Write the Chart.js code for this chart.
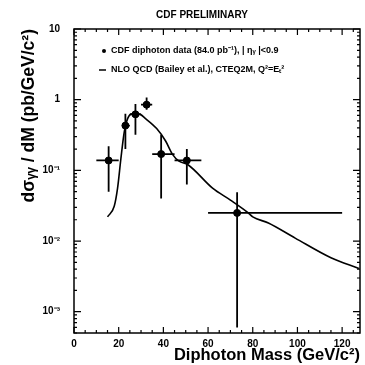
<!DOCTYPE html>
<html>
<head>
<meta charset="utf-8">
<script src="https://cdn.jsdelivr.net/npm/chart.js@4.4.1/dist/chart.umd.min.js"></script>
<style>
  html, body { margin: 0; padding: 0; background: #fff; }
  #wrap { width: 365px; height: 365px; }
</style>
</head>
<body>
<div id="wrap"><canvas id="diphotonChart" width="365" height="365"></canvas></div>
<script>
// Diphoton mass spectrum, CDF preliminary (log y axis)

// Data points
const massBins = [15.5, 23, 27.5, 32.5, 39, 50.5, 73];
const crossSection = [0.138, 0.43, 0.62, 0.85, 0.17, 0.138, 0.025];
const massLow = [10, 21.5, 25, 30, 35, 45, 60];
const massHigh = [20, 25, 30, 35, 45, 57, 120];
const errLow = [0.05, 0.2, 0.32, 0.72, 0.04, 0.063, 0.0006];
const errHigh = [0.22, 0.63, 0.87, 1.07, 0.32, 0.2, 0.049];

// NLO QCD curve
const curveMass = [15, 18, 19.5, 21, 22.5, 24, 26, 29, 32, 37, 41, 44, 47, 51, 62, 70, 78, 80, 87, 99, 115, 127.5];
const curveValue = [0.022, 0.031, 0.056, 0.148, 0.35, 0.54, 0.63, 0.63, 0.54, 0.39, 0.26, 0.17, 0.135, 0.12, 0.056, 0.038, 0.025, 0.022, 0.018, 0.011, 0.0058, 0.0041];

// Axis ticks
const xTickValues = [0, 20, 40, 60, 80, 100, 120];
const yTickValues = [0.001, 0.01, 0.1, 1, 10];
const yTickLabels = ['10\u207B\u00B3', '10\u207B\u00B2', '10\u207B\u00B9', '1', '10'];

const ink = '#000';
const boldFont = "'Liberation Sans', Arial, sans-serif";

// Error bars, drawn before the points so markers sit on top
const errorBars = {
    id: 'errorBars',
    afterDatasetsDraw(chart) {
        const { ctx, scales: { x, y } } = chart;
        ctx.save();
        ctx.strokeStyle = ink;
        ctx.lineWidth = 1.8;
        massBins.forEach((m, i) => {
            const px = x.getPixelForValue(m);
            const py = y.getPixelForValue(crossSection[i]);
            ctx.beginPath();
            ctx.moveTo(x.getPixelForValue(massLow[i]), py);
            ctx.lineTo(x.getPixelForValue(massHigh[i]), py);
            ctx.moveTo(px, y.getPixelForValue(errHigh[i]));
            ctx.lineTo(px, y.getPixelForValue(errLow[i]));
            ctx.stroke();
        });
        ctx.restore();
    }
};

// Frame, inward ticks on all four sides, title and legend text
const frameAndText = {
    id: 'frameAndText',
    afterDraw(chart) {
        const { ctx, chartArea: a, scales: { x, y } } = chart;
        ctx.save();
        ctx.strokeStyle = ink;
        ctx.lineWidth = 1.5;
        ctx.strokeRect(a.left, a.top, a.right - a.left, a.bottom - a.top);

        ctx.lineWidth = 1.2;
        ctx.beginPath();
        for (let v = 0; v <= x.max; v += 5) {
            const px = x.getPixelForValue(v);
            const len = v % 20 === 0 ? 6 : 3;
            ctx.moveTo(px, a.bottom); ctx.lineTo(px, a.bottom - len);
            ctx.moveTo(px, a.top); ctx.lineTo(px, a.top + len);
        }
        for (let e = -4; e <= 1; e++) {
            for (let k = 1; k <= 9; k++) {
                const v = k * Math.pow(10, e);
                if (v < y.min || v > y.max) continue;
                const py = y.getPixelForValue(v);
                const len = k === 1 ? 7 : 3;
                ctx.moveTo(a.left, py); ctx.lineTo(a.left + len, py);
                ctx.moveTo(a.right, py); ctx.lineTo(a.right - len, py);
            }
        }
        ctx.stroke();

        // Title
        ctx.fillStyle = ink;
        ctx.textBaseline = 'middle';
        ctx.textAlign = 'center';
        ctx.font = 'bold 10px ' + boldFont;
        ctx.fillText('CDF PRELIMINARY', 202, 15);

        // Legend inside the plot
        ctx.textAlign = 'left';
        ctx.font = 'bold 9px ' + boldFont;
        ctx.beginPath();
        ctx.arc(104, 51, 2, 0, Math.PI * 2);
        ctx.fill();
        ctx.fillText('CDF diphoton data (84.0 pb\u207B\u00B9), | \u03B7\u1D67 |<0.9', 111, 51);
        ctx.lineWidth = 1.5;
        ctx.beginPath();
        ctx.moveTo(99, 70); ctx.lineTo(106, 70);
        ctx.stroke();
        ctx.fillText('NLO QCD (Bailey et al.), CTEQ2M, Q\u00B2=E\u209C\u00B2', 111, 70);
        ctx.restore();
    }
};

const ctx = document.getElementById('diphotonChart').getContext('2d');

new Chart(ctx, {
    type: 'scatter',
    data: {
        datasets: [
            {
                label: 'NLO QCD',
                data: curveMass.map((m, i) => ({ x: m, y: curveValue[i] })),
                showLine: true,
                borderColor: ink,
                borderWidth: 1.6,
                pointRadius: 0,
                cubicInterpolationMode: 'monotone'
            },
            {
                label: 'CDF diphoton data',
                data: massBins.map((m, i) => ({ x: m, y: crossSection[i] })),
                showLine: false,
                backgroundColor: ink,
                borderColor: ink,
                pointRadius: 3.5
            }
        ]
    },
    options: {
        responsive: false,
        animation: false,
        layout: { padding: { top: 29, right: 4, left: 0, bottom: 0 } },
        plugins: {
            legend: { display: false },
            tooltip: { enabled: false }
        },
        scales: {
            x: {
                type: 'linear',
                min: 0,
                max: 128,
                grid: { display: false, drawTicks: false },
                border: { display: false },
                afterBuildTicks: scale => { scale.ticks = xTickValues.map(v => ({ value: v })); },
                afterFit: scale => { scale.height = 32; },
                ticks: {
                    color: ink,
                    padding: 5,
                    maxRotation: 0,
                    font: { family: boldFont, size: 10, weight: 'bold' }
                },
                title: {
                    display: true,
                    text: 'Diphoton Mass (GeV/c\u00B2)',
                    align: 'end',
                    color: ink,
                    padding: { top: 0, bottom: 0 },
                    font: { family: boldFont, size: 16.5, weight: 'bold' }
                }
            },
            y: {
                type: 'logarithmic',
                min: 0.0005,
                max: 10,
                grid: { display: false, drawTicks: false },
                border: { display: false },
                afterBuildTicks: scale => { scale.ticks = yTickValues.map(v => ({ value: v })); },
                afterFit: scale => { scale.width = 74; },
                ticks: {
                    color: ink,
                    padding: 14,
                    font: { family: boldFont, size: 10, weight: 'bold' },
                    callback: (value) => yTickLabels[yTickValues.indexOf(value)]
                },
                title: {
                    display: true,
                    text: 'd\u03C3\u1D67\u1D67 / dM (pb/GeV/c\u00B2)',
                    align: 'end',
                    color: ink,
                    padding: { top: 19, bottom: 0 },
                    font: { family: boldFont, size: 17.5, weight: 'bold' }
                }
            }
        }
    },
    plugins: [errorBars, frameAndText]
});
</script>
</body>
</html>
